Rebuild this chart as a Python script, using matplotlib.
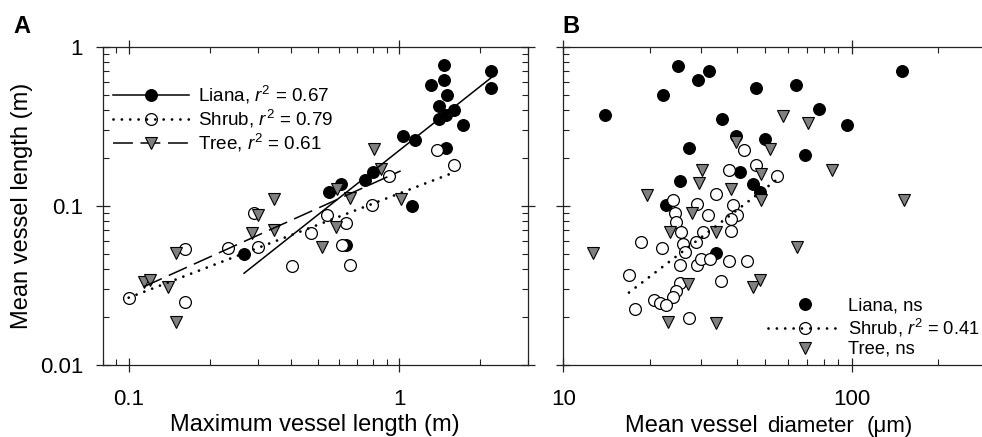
import matplotlib

matplotlib.use("Agg")

import matplotlib.pyplot as plt
import numpy as np
from matplotlib.legend_handler import HandlerLine2D
from matplotlib.lines import Line2D
from matplotlib.ticker import FuncFormatter, LogLocator, NullFormatter

# ---- panel A: mean vs maximum vessel length (m) ----
liana_a_x = [2.19, 2.19, 1.47, 1.47, 1.31, 1.51, 1.41, 1.49, 1.60, 1.41, 1.72,
             1.03, 1.15, 1.49, 0.80, 0.75, 0.61, 0.55, 1.12, 0.267, 0.635]
liana_a_y = [0.700, 0.550, 0.763, 0.620, 0.577, 0.499, 0.421, 0.374, 0.402, 0.352, 0.323,
             0.273, 0.260, 0.231, 0.162, 0.146, 0.137, 0.122, 0.100, 0.0499, 0.0569]

shrub_a_x = [0.100, 0.161, 0.161, 0.233, 0.290, 0.301, 0.403, 0.471, 0.540, 0.617,
             0.635, 0.657, 0.797, 0.918, 1.387, 1.599]
shrub_a_y = [0.0265, 0.0534, 0.0247, 0.0542, 0.090, 0.0555, 0.0421, 0.0674, 0.0878, 0.0569,
             0.0785, 0.0426, 0.1005, 0.153, 0.223, 0.181]

tree_a_x = [0.1136, 0.120, 0.1395, 0.150, 0.150, 0.285, 0.300, 0.344, 0.344, 0.517,
            0.591, 0.586, 0.657, 0.808, 0.855, 1.014]
tree_a_y = [0.0334, 0.0343, 0.0311, 0.0504, 0.0187, 0.0679, 0.0877, 0.110, 0.0707, 0.0555,
            0.1273, 0.0731, 0.1117, 0.227, 0.171, 0.110]

# ---- panel B: mean vessel length vs mean vessel diameter (um) ----
liana_b_x = [13.95, 22.2, 25.06, 29.4, 32.0, 35.6, 27.35, 39.6, 46.8, 50.1, 64.1,
             69.1, 77.3, 96.1, 150, 25.5, 41.0, 45.6, 48.1, 22.8, 34.0]
liana_b_y = [0.3735, 0.494, 0.759, 0.620, 0.700, 0.352, 0.2306, 0.273, 0.550, 0.2627, 0.577,
             0.209, 0.406, 0.323, 0.706, 0.1436, 0.162, 0.137, 0.123, 0.1005, 0.0504]

shrub_b_x = [42.3, 46.7, 55.2, 37.6, 34.0, 24.1, 29.0, 38.9, 24.4, 31.9, 39.9, 24.7, 38.3,
             25.7, 30.6, 38.3, 18.6, 22.0, 26.1, 28.9, 26.4, 25.4, 29.0, 30.0, 32.3, 37.6,
             43.5, 16.9, 35.2, 25.4, 24.7, 24.0, 20.6, 21.7, 22.8, 17.7, 27.3]
shrub_b_y = [0.223, 0.181, 0.155, 0.167, 0.119, 0.109, 0.103, 0.101, 0.090, 0.0878, 0.0878,
             0.0797, 0.0828, 0.068, 0.068, 0.0696, 0.0589, 0.0542, 0.0573, 0.059, 0.051,
             0.0424, 0.0424, 0.0466, 0.0466, 0.0453, 0.0453, 0.0366, 0.0337, 0.0326, 0.0293,
             0.0269, 0.0255, 0.0245, 0.0239, 0.0226, 0.0196]

tree_b_x = [12.7, 19.5, 23.4, 23.0, 27.1, 27.9, 29.6, 30.3, 33.8, 33.8, 38.2, 39.6, 45.6,
            48.1, 48.4, 48.4, 52.1, 57.7, 64.5, 70.4, 85.7, 152]
tree_b_y = [0.0504, 0.117, 0.068, 0.0187, 0.0323, 0.090, 0.140, 0.168, 0.0183, 0.0689, 0.127,
            0.250, 0.0308, 0.0342, 0.159, 0.109, 0.227, 0.368, 0.055, 0.331, 0.168, 0.109]

# log-log fits: log10(y) = intercept + slope * log10(x)
liana_a_fit = (-0.653, 1.344)
shrub_a_fit = (-0.923, 0.654)
tree_a_fit = (-0.785, 0.766)
shrub_b_fit = (-3.243, 1.383)

legend_a = ["Liana, $r^2$ = 0.67", "Shrub, $r^2$ = 0.79", "Tree, $r^2$ = 0.61"]
legend_b = ["Liana, ns", "Shrub, $r^2$ = 0.41", "Tree, ns"]

GREY = "#808080"
SOLID = dict(color="black", linewidth=1.1, linestyle="-")
DOTTED = dict(color="black", linewidth=2.0, linestyle=(0, (0.01, 3.0)), dash_capstyle="round")
DASHED = dict(color="black", linewidth=1.1, linestyle=(0, (13, 5)))
LIANA_M = dict(marker="o", markersize=8.5, markerfacecolor="black", markeredgecolor="black",
               markeredgewidth=0.8, linestyle="none")
SHRUB_M = dict(marker="o", markersize=8.5, markerfacecolor="white", markeredgecolor="black",
               markeredgewidth=0.9, linestyle="none")
TREE_M = dict(marker="v", markersize=8.5, markerfacecolor=GREY, markeredgecolor="black",
              markeredgewidth=0.8, linestyle="none")


class MarkerAt(HandlerLine2D):
    """Legend handle with the marker placed at a fraction of the line length."""

    def __init__(self, frac, **kw):
        super().__init__(**kw)
        self.frac = frac

    def get_xdata(self, legend, xdescent, ydescent, width, height, fontsize):
        xdata = np.array([-xdescent, -xdescent + width])
        xmark = np.array([-xdescent + self.frac * width])
        return xdata, xmark


def fit_line(ax, xs, fit, style):
    lo, hi = np.log10(min(xs)), np.log10(max(xs))
    lx = np.linspace(lo, hi, 50)
    ax.plot(10 ** lx, 10 ** (fit[0] + fit[1] * lx), zorder=5, **style)


def style_axis(ax, xlim):
    ax.set_xscale("log")
    ax.set_yscale("log")
    ax.set_xlim(*xlim)
    ax.set_ylim(0.01, 1)
    for axis in (ax.xaxis, ax.yaxis):
        axis.set_major_locator(LogLocator(base=10))
        axis.set_minor_locator(LogLocator(base=10, subs=np.arange(2, 10)))
        axis.set_minor_formatter(NullFormatter())
        axis.set_major_formatter(FuncFormatter(lambda v, p: f"{v:g}"))
    ax.tick_params(which="both", top=True, right=True, color="#222222")
    ax.tick_params(which="major", direction="inout", length=10, width=0.9, labelsize=16)
    ax.tick_params(which="minor", direction="in", length=4.5, width=0.8)
    ax.tick_params(axis="x", which="major", pad=12)
    ax.tick_params(axis="y", which="major", pad=9)
    for sp in ax.spines.values():
        sp.set_linewidth(0.9)
        sp.set_color("#222222")


plt.rcParams.update({
    "font.family": ["Liberation Sans", "DejaVu Sans"],
    "mathtext.fontset": "custom",
    "mathtext.rm": "Liberation Sans",
    "mathtext.it": "Liberation Sans:italic",
    "mathtext.bf": "Liberation Sans:bold",
})

fig = plt.figure(figsize=(9.82, 4.37), dpi=100)
ax_a = fig.add_axes([0.1044, 0.1648, 0.4333, 0.7284])
ax_b = fig.add_axes([0.5736, 0.1648, 0.4336, 0.7284])

# panel A
ax_a.plot(liana_a_x, liana_a_y, zorder=2, **LIANA_M)
ax_a.plot(shrub_a_x, shrub_a_y, zorder=3, **SHRUB_M)
ax_a.plot(tree_a_x, tree_a_y, zorder=4, **TREE_M)
fit_line(ax_a, liana_a_x, liana_a_fit, SOLID)
fit_line(ax_a, shrub_a_x, shrub_a_fit, DOTTED)
fit_line(ax_a, tree_a_x, tree_a_fit, DASHED)
style_axis(ax_a, (0.08, 3))
ax_a.set_xlabel("Maximum vessel length (m)", fontsize=17, labelpad=3)
ax_a.set_ylabel("Mean vessel length (m)", fontsize=17, labelpad=5)

handles_a = [
    Line2D([], [], **{**LIANA_M, "linestyle": "-"}, color="black", linewidth=1.1),
    Line2D([], [], **{**SHRUB_M, "markerfacecolor": "none"}),
    Line2D([], [], **TREE_M),
]
handles_a[1].set_linestyle(DOTTED["linestyle"])
handles_a[1].set_linewidth(2.0)
handles_a[1].set_color("black")
handles_a[1].set_dash_capstyle("round")
handles_a[2].set_linestyle(DASHED["linestyle"])
handles_a[2].set_color("black")
handles_a[2].set_markerfacecolor(GREY)
handles_a[2].set_linewidth(1.1)
ax_a.legend(handles_a, legend_a, loc="upper left", bbox_to_anchor=(0.025, 0.884),
            frameon=False, fontsize=13.6, handlelength=4.0, handletextpad=0.5,
            labelspacing=0.1, borderpad=0, borderaxespad=0,
            handler_map={h: MarkerAt(0.69) for h in handles_a})

# panel B
ax_b.plot(liana_b_x, liana_b_y, zorder=2, **LIANA_M)
ax_b.plot(shrub_b_x, shrub_b_y, zorder=3, **SHRUB_M)
ax_b.plot(tree_b_x, tree_b_y, zorder=4, **TREE_M)
fit_line(ax_b, shrub_b_x, shrub_b_fit, DOTTED)
style_axis(ax_b, (10, 300))
ax_b.tick_params(axis="y", labelleft=False)

handles_b = [
    Line2D([], [], **LIANA_M),
    Line2D([], [], **{**SHRUB_M, "markerfacecolor": "none"}),
    Line2D([], [], **TREE_M),
]
handles_b[1].set_linestyle(DOTTED["linestyle"])
handles_b[1].set_linewidth(2.0)
handles_b[1].set_color("black")
handles_b[1].set_dash_capstyle("round")
ax_b.legend(handles_b, legend_b, loc="lower left", bbox_to_anchor=(0.481, 0.022),
            frameon=False, fontsize=13.2, handlelength=4.0, handletextpad=0.35,
            labelspacing=0.12, borderpad=0, borderaxespad=0,
            handler_map={h: MarkerAt(0.63) for h in handles_b})

# x label of B mixes sizes
fig.text(625 / 982, 0.012, "Mean vessel", fontsize=17, ha="left", va="baseline")
fig.text(767 / 982, 0.012, "diameter", fontsize=16, ha="left", va="baseline")
fig.text(867 / 982, 0.012, "(\u03bcm)", fontsize=16, ha="left", va="baseline")

fig.text(13 / 982, 1 - 33 / 437, "A", fontsize=17, fontweight="bold", ha="left", va="baseline")
fig.text(562 / 982, 1 - 33 / 437, "B", fontsize=17, fontweight="bold", ha="left", va="baseline")

fig.savefig("out.png", dpi=100)
